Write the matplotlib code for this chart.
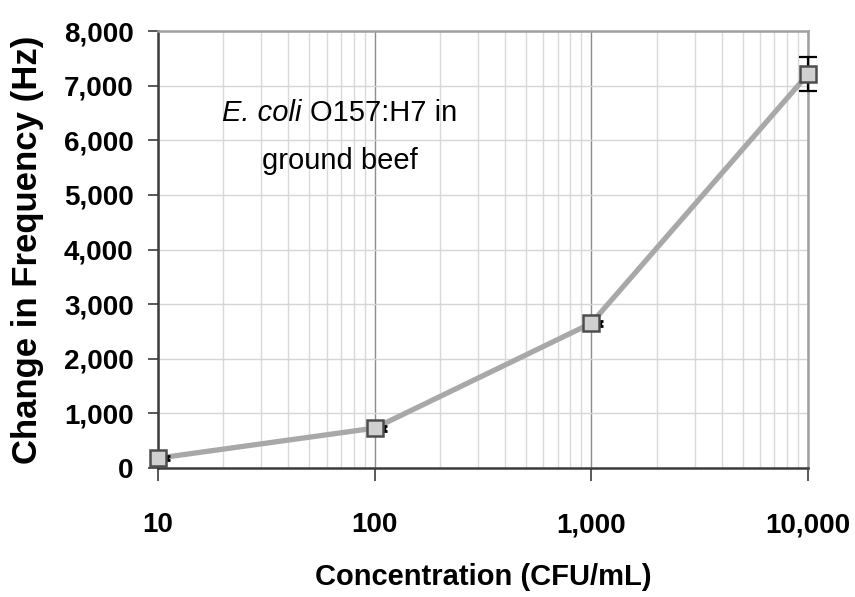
import matplotlib
matplotlib.use("Agg")
import matplotlib.pyplot as plt
import matplotlib.ticker as mticker
from matplotlib.offsetbox import AnnotationBbox, HPacker, TextArea
from matplotlib.transforms import ScaledTranslation
import numpy as np

# data
conc = [10, 100, 1000, 10000]
freq = [180, 730, 2650, 7210]
freq_err = [40, 45, 45, 310]

yticks = [0, 1000, 2000, 3000, 4000, 5000, 6000, 7000, 8000]
xticks = [10, 100, 1000, 10000]


def main():
    plt.rcParams['font.family'] = ['Liberation Sans', 'DejaVu Sans']
    fig = plt.figure(figsize=(8.55, 5.97), dpi=100)
    ax = fig.add_axes([158 / 855, 1 - 468 / 597, 650 / 855, 437 / 597])

    ax.set_xscale('log')
    ax.set_xlim(10, 10000)
    ax.set_ylim(0, 8000)

    # grid
    ax.set_axisbelow(True)
    ax.xaxis.set_minor_locator(mticker.LogLocator(base=10, subs=np.arange(2, 10)))
    ax.xaxis.set_minor_formatter(mticker.NullFormatter())
    ax.grid(which='minor', axis='x', color='#d9d9d9', lw=1.0)
    ax.grid(which='major', axis='x', color='#8c8c8c', lw=1.0)
    ax.grid(which='major', axis='y', color='#d6d6d6', lw=1.0)
    ax.tick_params(axis='x', which='minor', length=0)

    ax.plot(conc, freq, color='#a8a8a8', lw=3.8, zorder=3,
            solid_capstyle='butt')
    # small bars sit just right of the markers, the last one is centred
    off = ax.transData + ScaledTranslation(9 / 100, 0, fig.dpi_scale_trans)
    ax.errorbar(conc[:3], freq[:3], yerr=freq_err[:3], fmt='none',
                ecolor='black', elinewidth=2.5, capsize=2, capthick=2,
                transform=off, zorder=4, clip_on=False)
    ax.plot(conc, freq, ls='none', marker='s', ms=11, mfc='#d0d0d0',
            mec='#4d4d4d', mew=1.8, zorder=5, clip_on=False)
    ax.errorbar(conc[3:], freq[3:], yerr=freq_err[3:], fmt='none',
                ecolor='black', elinewidth=1.6, capsize=6.5, capthick=1.6,
                zorder=4, clip_on=False)

    for s in ['top', 'right']:
        ax.spines[s].set_color('#a0a0a0')
        ax.spines[s].set_linewidth(1.8)
    for s in ['left', 'bottom']:
        ax.spines[s].set_color('#3c3c3c')
        ax.spines[s].set_linewidth(1.8)

    ax.set_xticks(xticks)
    ax.xaxis.set_major_formatter(mticker.FuncFormatter(lambda v, p: f'{v:,.0f}'))
    ax.set_yticks(yticks)
    ax.yaxis.set_major_formatter(mticker.FuncFormatter(lambda v, p: f'{v:,.0f}'))
    ax.tick_params(axis='y', which='major', length=7.5, width=1.2,
                   color='#3c3c3c', pad=10, labelsize=20)
    ax.tick_params(axis='x', which='major', length=9, width=1.2,
                   color='#3c3c3c', pad=23, labelsize=20)
    for lab in ax.get_xticklabels() + ax.get_yticklabels():
        lab.set_fontweight('bold')

    # annotation: italic species name followed by plain text
    line1 = HPacker(children=[
        TextArea('E. coli', textprops=dict(style='italic', size=21)),
        TextArea('O157:H7 in', textprops=dict(size=21)),
    ], sep=6, pad=0, align='baseline')
    ab = AnnotationBbox(line1, (0.28, 0.812), xycoords='axes fraction',
                        frameon=False, box_alignment=(0.5, 0.5))
    ax.add_artist(ab)
    ax.text(0.28, 0.7025, 'ground beef', transform=ax.transAxes,
            ha='center', va='center', fontsize=21)

    fig.text(483 / 855, 1 - 577 / 597, 'Concentration (CFU/mL)',
             ha='center', va='center', fontsize=21, fontweight='bold')
    fig.text(28 / 855, 1 - 250 / 597, 'Change in Frequency (Hz)',
             ha='center', va='center', rotation=90, fontsize=25,
             fontweight='bold')

    fig.savefig('out.png', dpi=100)


if __name__ == '__main__':
    main()
